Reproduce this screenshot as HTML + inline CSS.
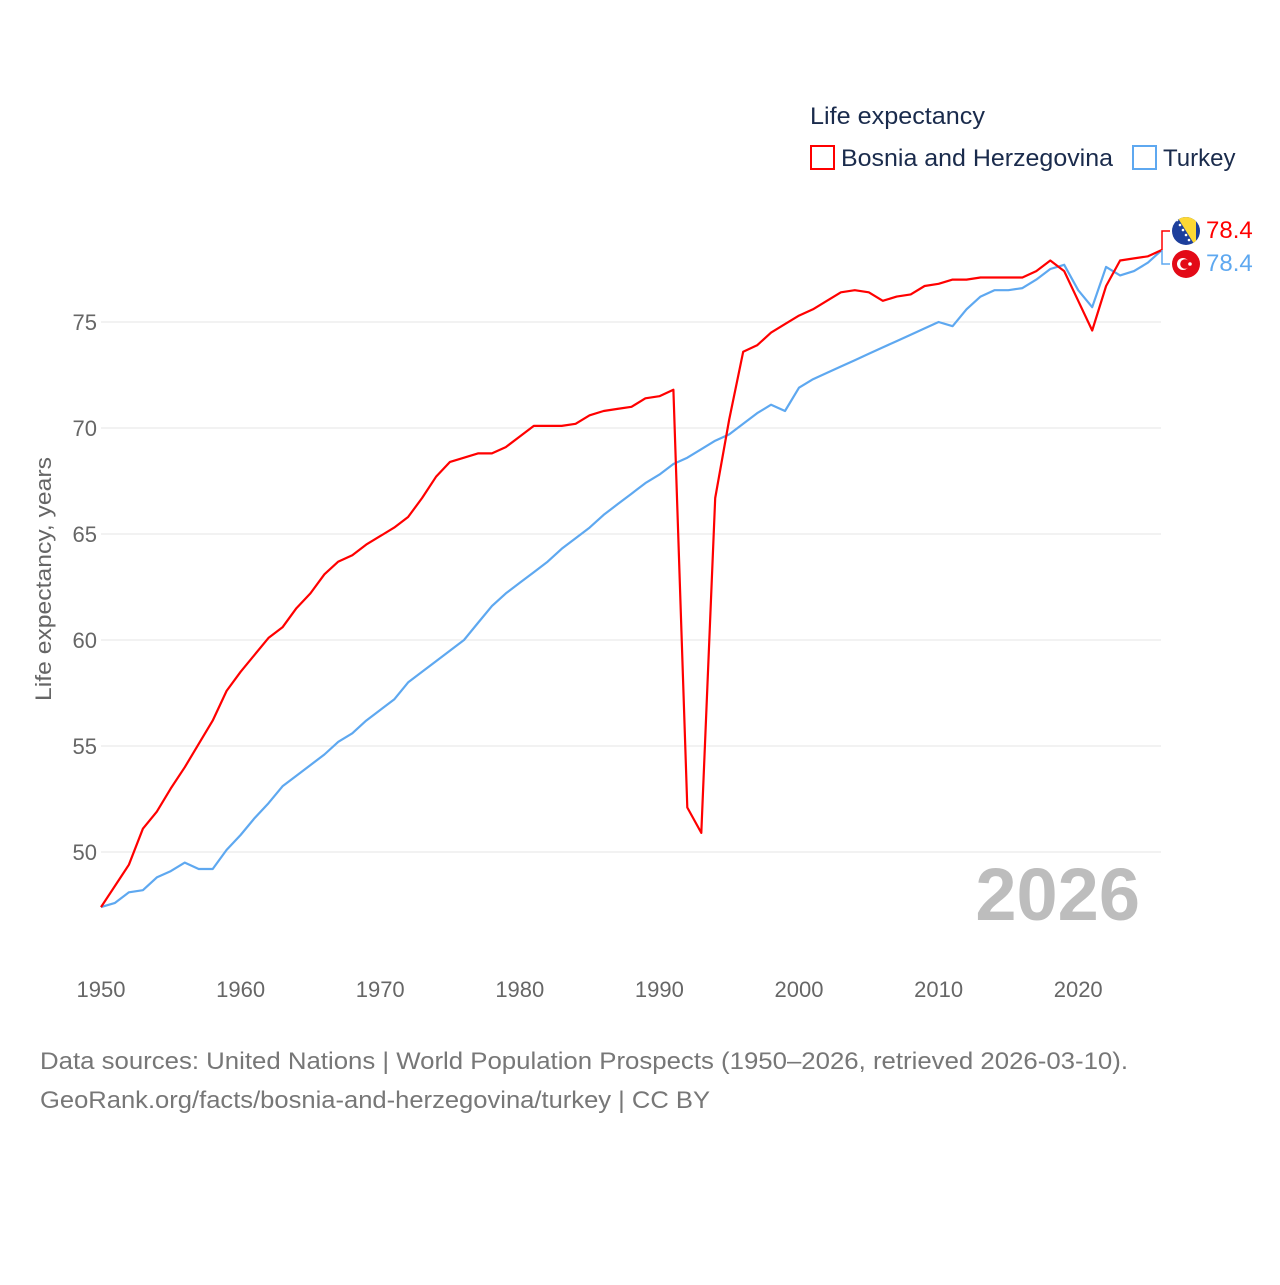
<!DOCTYPE html>
<html><head><meta charset="utf-8"><style>
html,body{margin:0;padding:0;background:#fff;}
svg text{font-family:"Liberation Sans",sans-serif;}
</style></head><body>
<svg id="chart" width="1280" height="1280" viewBox="0 0 1280 1280" xmlns="http://www.w3.org/2000/svg">
<rect width="1280" height="1280" fill="#fff"/>
<g id="grid"></g>
<g id="yticks"></g>
<g id="xticks"></g>
<text transform="translate(51,579) rotate(-90)" text-anchor="middle" font-size="22" fill="#666" textLength="244" lengthAdjust="spacingAndGlyphs">Life expectancy, years</text>
<text x="1140" y="920" text-anchor="end" font-size="74" font-weight="bold" fill="#bdbdbd">2026</text>
<g id="lines"></g>
<text x="810" y="124" font-size="24" fill="#1a2b4c" textLength="175" lengthAdjust="spacingAndGlyphs">Life expectancy</text>
<g>
<rect x="811" y="146" width="23" height="23" fill="none" stroke="#f00" stroke-width="2"/>
<text x="841" y="166" font-size="24" fill="#1a2b4c" textLength="272" lengthAdjust="spacingAndGlyphs">Bosnia and Herzegovina</text></g>
<g>
<rect x="1133" y="146" width="23" height="23" fill="none" stroke="#5ea8f0" stroke-width="2"/>
<text x="1163" y="166" font-size="24" fill="#1a2b4c">Turkey</text></g>
<g>
<path d="M1162,250 L1162,231 L1170,231" fill="none" stroke="#f00" stroke-width="1.5"/>
<path d="M1162,250 L1162,264 L1170,264" fill="none" stroke="#5ea8f0" stroke-width="1.5"/>
<g>
<clipPath id="c1"><circle cx="1186" cy="231" r="14"/></clipPath>
<g clip-path="url(#c1)"><rect x="1170" y="215" width="32" height="32" fill="#1d3f9c"/>
<polygon points="1176,215 1196,215 1196,247" fill="#fdd835"/>
<g fill="#fff"><circle cx="1177" cy="220" r="1.3"/><circle cx="1180" cy="225" r="1.3"/><circle cx="1183" cy="230" r="1.3"/><circle cx="1186" cy="235" r="1.3"/><circle cx="1189" cy="240" r="1.3"/><circle cx="1192" cy="245" r="1.3"/></g></g></g>
<g>
<circle cx="1186" cy="264" r="14" fill="#e30a17"/>
<circle cx="1183" cy="264" r="6" fill="#fff"/><circle cx="1185" cy="264" r="4.8" fill="#e30a17"/>
<circle cx="1190" cy="264" r="1.8" fill="#fff"/></g>
<text x="1206" y="238" font-size="24" fill="#f00">78.4</text>
<text x="1206" y="271" font-size="24" fill="#5ea8f0">78.4</text>
</g>
<text x="40" y="1069" font-size="24" fill="#777" textLength="1088" lengthAdjust="spacingAndGlyphs">Data sources: United Nations | World Population Prospects (1950–2026, retrieved 2026-03-10).</text>
<text x="40" y="1108" font-size="24" fill="#777" textLength="670" lengthAdjust="spacingAndGlyphs">GeoRank.org/facts/bosnia-and-herzegovina/turkey | CC BY</text>
</svg>
<script>
const years=[];for(let y=1950;y<=2026;y++)years.push(y);
const bosnia=[47.4,48.4,49.4,51.1,51.9,53.0,54.0,55.1,56.2,57.6,58.5,59.3,60.1,60.6,61.5,62.2,63.1,63.7,64.0,64.5,64.9,65.3,65.8,66.7,67.7,68.4,68.6,68.8,68.8,69.1,69.6,70.1,70.1,70.1,70.2,70.6,70.8,70.9,71.0,71.4,71.5,71.8,52.1,50.9,66.7,70.4,73.6,73.9,74.5,74.9,75.3,75.6,76.0,76.4,76.5,76.4,76.0,76.2,76.3,76.7,76.8,77.0,77.0,77.1,77.1,77.1,77.1,77.4,77.9,77.4,76.0,74.6,76.7,77.9,78.0,78.1,78.4];
const turkey=[47.4,47.6,48.1,48.2,48.8,49.1,49.5,49.2,49.2,50.1,50.8,51.6,52.3,53.1,53.6,54.1,54.6,55.2,55.6,56.2,56.7,57.2,58.0,58.5,59.0,59.5,60.0,60.8,61.6,62.2,62.7,63.2,63.7,64.3,64.8,65.3,65.9,66.4,66.9,67.4,67.8,68.3,68.6,69.0,69.4,69.7,70.2,70.7,71.1,70.8,71.9,72.3,72.6,72.9,73.2,73.5,73.8,74.1,74.4,74.7,75.0,74.8,75.6,76.2,76.5,76.5,76.6,77.0,77.5,77.7,76.5,75.7,77.6,77.2,77.4,77.8,78.4];
const yTicks=[50,55,60,65,70,75];
const xTicks=[1950,1960,1970,1980,1990,2000,2010,2020];
const NS="http://www.w3.org/2000/svg";
const x=v=>101+(v-1950)*13.96;
const y=v=>852-(v-50)*21.2;
function mk(t,a,p){const e=document.createElementNS(NS,t);for(const k in a)e.setAttribute(k,a[k]);document.getElementById(p).appendChild(e);return e;}
yTicks.forEach(t=>{
 const g=mk('line',{x1:101,x2:1161,y1:y(t),y2:y(t),stroke:'#e6e6e6','stroke-width':1},'grid');
 
 
 const l=mk('text',{x:97,y:y(t)+8,'text-anchor':'end','font-size':22,fill:'#666'},'yticks');
 l.textContent=t;
 
 
});
xTicks.forEach(t=>{
 const l=mk('text',{x:x(t),y:997,'text-anchor':'middle','font-size':22,fill:'#666'},'xticks');
 l.textContent=t;
 
 
});
function line(d,c,n){
 const p=mk('path',{d:d.map((v,i)=>(i?'L':'M')+x(years[i]).toFixed(1)+','+y(v).toFixed(1)).join(''),fill:'none',stroke:c,'stroke-width':2.2,'stroke-linejoin':'round'},'lines');
 
 
}
line(turkey,'#5ea8f0','turkey-line');
line(bosnia,'#f00','bosnia-line');
</script>
</body></html>
